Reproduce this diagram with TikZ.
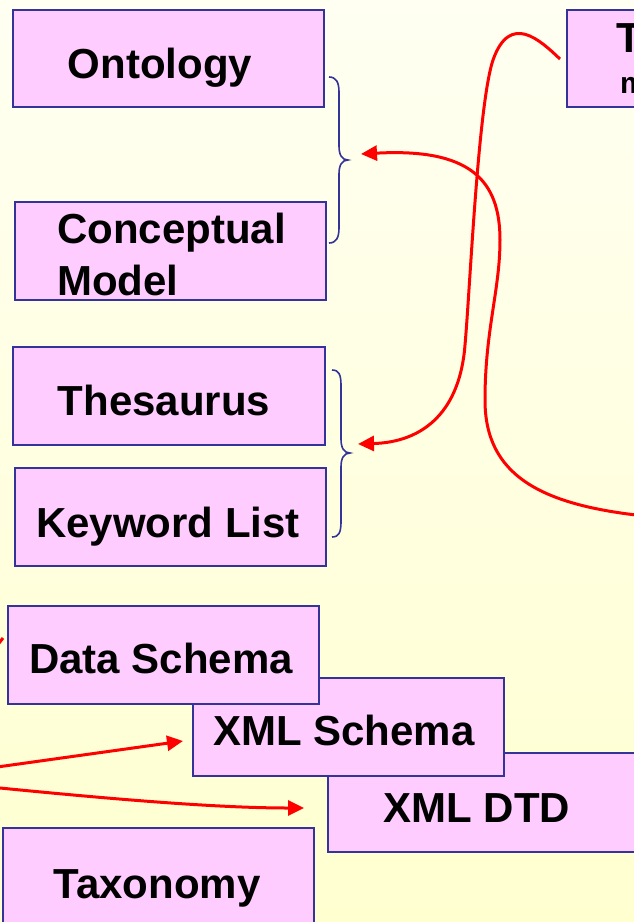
\documentclass[tikz,border=0pt]{standalone}
\usepackage{fontspec}
\setmainfont{Liberation Sans}
\usetikzlibrary{arrows.meta}
\definecolor{boxfill}{RGB}{255,204,255}
\definecolor{boxline}{RGB}{51,51,153}
\definecolor{bgtop}{RGB}{255,255,242}
\definecolor{bgbot}{RGB}{255,255,208}
\tikzset{
  termbox/.style={draw=boxline, fill=boxfill, line width=2pt, rectangle},
  termtext/.style={anchor=base, inner sep=0pt, font=\fontsize{42}{52}\selectfont\bfseries},
  bracket/.style={draw=boxline, line width=1.6pt},
  link/.style={draw=red, line width=3pt, -{Triangle[length=16pt,width=15pt]}},
  plainlink/.style={draw=red, line width=3pt}
}
\begin{document}
\begin{tikzpicture}[x=1pt, y=-1pt]
\useasboundingbox (0,0) rectangle (634,922);
\clip (0,0) rectangle (634,922);
\shade[top color=bgtop, bottom color=bgbot] (0,0) rectangle (634,922);

% upper group
\path[termbox] (13,10) rectangle (324,107);
\node[termtext] (ont) at (160,78) {Ontology};
\path[termbox] (15,202) rectangle (326,300);
\node[termtext, anchor=base west] (cm1) at (57,243) {Conceptual};
\node[termtext, anchor=base west] (cm2) at (57,295) {Model};

% middle group
\path[termbox] (13,347) rectangle (325,445);
\node[termtext] (thes) at (164,415) {Thesaurus};
\path[termbox] (15,468) rectangle (326,566);
\node[termtext] (kw) at (168,537) {Keyword List};

% schema boxes (stacked)
\path[termbox] (328,753) rectangle (660,852);
\node[termtext] (dtd) at (477,822) {XML DTD};
\path[termbox] (193,678) rectangle (504,776);
\node[termtext] (xmls) at (344,745) {XML Schema};
\path[termbox] (8,606) rectangle (319,704);
\node[termtext] (ds) at (161,673) {Data Schema};
\path[termbox] (3,828) rectangle (314,940);
\node[termtext] (tax) at (157,898) {Taxonomy};

% partly visible box at top right
\path[termbox] (567,10) rectangle (700,107);
\node[termtext, anchor=base west] (tl1) at (616,52) {T};
\node[anchor=base west, inner sep=0pt, font=\fontsize{30}{36}\selectfont\bfseries] (tl2) at (620,93) {m};

% curly brackets
\path[bracket] (329,77) .. controls (336,77) and (339,82) .. (339,92) -- (339,146)
  .. controls (339,155) and (342,160) .. (348,160)
  .. controls (342,160) and (339,165) .. (339,174) -- (339,228)
  .. controls (339,238) and (336,243) .. (329,243);
\path[bracket] (332,370) .. controls (339,370) and (341,375) .. (341,385) -- (341,439)
  .. controls (341,448) and (344,453) .. (350,453)
  .. controls (344,453) and (341,458) .. (341,467) -- (341,522)
  .. controls (341,532) and (339,537) .. (332,537);

% connector ends
\coordinate (srcA) at (645,516);
\coordinate (tipA) at (361,154);
\coordinate (srcB) at (560,59);
\coordinate (tipB) at (358,444);
\coordinate (srcC) at (-10,768);
\coordinate (tipC) at (183,741);
\coordinate (srcD) at (-10,787);
\coordinate (tipD) at (304,808);
\coordinate (srcE) at (-8,652);
\coordinate (endE) at (3,638);

% red connectors
\path[link] (srcA) .. controls (540,505) and (485,475) .. (485,400)
  .. controls (485,330) and (500,290) .. (500,240)
  .. controls (500,180) and (470,148) .. (tipA);
\path[link] (srcB) .. controls (540,40) and (510,12) .. (493,60)
  .. controls (478,105) and (470,290) .. (465,345)
  .. controls (460,410) and (425,442) .. (tipB);
\path[link] (srcC) -- (tipC);
\path[link] (srcD) .. controls (120,800) and (220,808) .. (tipD);
\path[plainlink] (srcE) -- (endE);
\end{tikzpicture}
\end{document}
